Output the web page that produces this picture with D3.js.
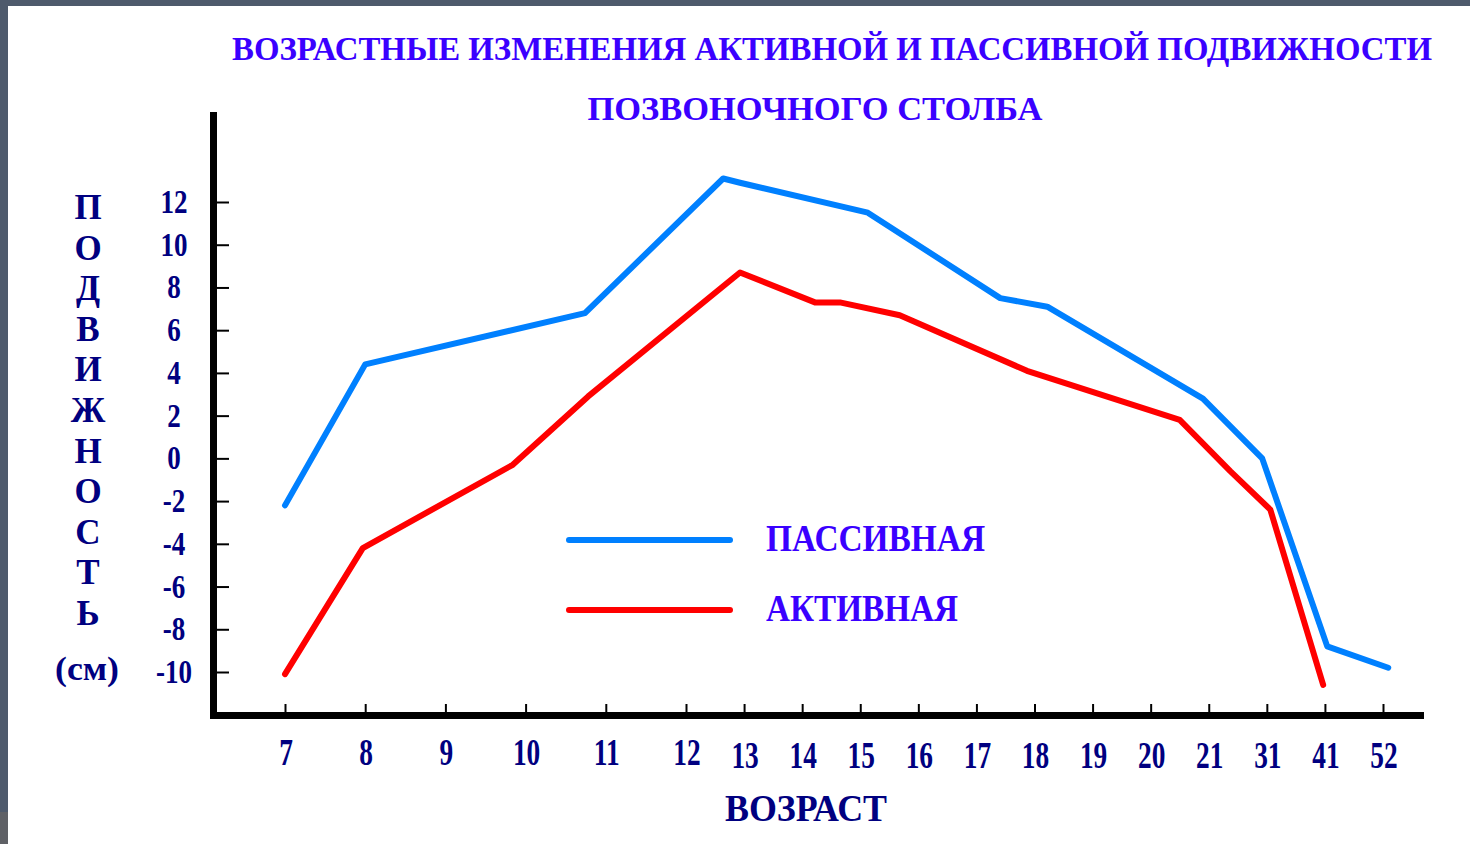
<!DOCTYPE html>
<html>
<head>
<meta charset="utf-8">
<script src="https://cdn.jsdelivr.net/npm/d3@7"></script>
<style>
  body { margin: 0; background: #fff; }
  svg { display: block; }
  text { font-family: "Liberation Serif", "Times New Roman", serif; font-weight: bold; }
</style>
</head>
<body>
<div class="chart"></div>
<script>
const w = 1470;
const h = 844;

// ages along the x axis (categories)
const ages = ["7", "8", "9", "10", "11", "12", "13", "14", "15", "16", "17", "18", "19", "20", "21", "31", "41", "52"];
const yTicks = [12, 10, 8, 6, 4, 2, 0, -2, -4, -6, -8, -10];

// series: position along the age axis (category index) and value in cm
const passivePos = [0, 1, 3.74, 5.64, 5.93, 8.13, 10.41, 11.22, 13.9, 14.92, 16.04, 17.09];
const passiveVal = [-2.2, 4.4, 6.8, 13.1, 12.9, 11.5, 7.5, 7.1, 2.8, 0, -8.8, -9.8];
const activePos = [0, 0.97, 2.84, 3.78, 5.93, 7.22, 7.65, 8.68, 10.87, 13.5, 14.37, 15.06, 15.97];
const activeVal = [-10.1, -4.2, -0.3, 2.9, 8.7, 7.3, 7.3, 6.7, 4.1, 1.8, -0.6, -2.4, -10.6];

const yLetters = ["П", "О", "Д", "В", "И", "Ж", "Н", "О", "С", "Т", "Ь"];

const navy = "#000080";
const violet = "#3a00ff";
const blue = "#0080ff";
const red = "#ff0000";

const svg = d3.select(".chart")
    .append("svg")
    .attr("width", w)
    .attr("height", h);

// frame of the slide
svg.append("rect").attr("x", 0).attr("y", 0).attr("width", w).attr("height", 6).attr("fill", "#4e5a6c");
svg.append("rect").attr("x", 0).attr("y", 0).attr("width", 8).attr("height", 812).attr("fill", "#4e5a6c");
svg.append("rect").attr("x", 0).attr("y", 812).attr("width", 8).attr("height", h - 812).attr("fill", "#5f6166");

// scales: the first six ages are spaced wider than the rest
const x = d3.scaleLinear()
    .domain([0, 5, ages.length - 1])
    .range([285, 686, 1383]);

const y = d3.scaleLinear()
    .domain([-10, 12])
    .range([672, 202]);

// title
svg.append("text")
    .attr("x", 832).attr("y", 60)
    .attr("text-anchor", "middle")
    .attr("fill", violet)
    .style("font-size", "33px")
    .attr("textLength", 1200)
    .attr("lengthAdjust", "spacingAndGlyphs")
    .text("ВОЗРАСТНЫЕ ИЗМЕНЕНИЯ АКТИВНОЙ И ПАССИВНОЙ ПОДВИЖНОСТИ");

svg.append("text")
    .attr("x", 815).attr("y", 120)
    .attr("text-anchor", "middle")
    .attr("fill", violet)
    .style("font-size", "34px")
    .attr("textLength", 455)
    .attr("lengthAdjust", "spacingAndGlyphs")
    .text("ПОЗВОНОЧНОГО СТОЛБА");

// y axis
const yAxis = svg.append("g").attr("transform", "translate(217,0)")
    .call(d3.axisRight(y).tickValues(yTicks).tickSize(12).tickFormat(""));
yAxis.select(".domain").remove();
yAxis.selectAll(".tick line").attr("stroke", "#000").attr("stroke-width", 2);

svg.selectAll(".ylab")
    .data(yTicks)
    .enter()
    .append("text")
    .attr("class", "ylab")
    .attr("transform", (d) => `translate(174, ${y(d) + 11}) scale(0.82, 1)`)
    .attr("text-anchor", "middle")
    .attr("fill", navy)
    .style("font-size", "33px")
    .text((d) => d);

// x axis
const xAxis = svg.append("g").attr("transform", "translate(0,712)")
    .call(d3.axisTop(x).tickValues(d3.range(ages.length)).tickSize(8).tickFormat(""));
xAxis.select(".domain").remove();
xAxis.selectAll(".tick line").attr("stroke", "#000").attr("stroke-width", 2);

svg.selectAll(".xlab")
    .data(ages)
    .enter()
    .append("text")
    .attr("class", "xlab")
    .attr("transform", (d, i) => `translate(${x(i) + 1}, ${i < 6 ? 765 : 768}) scale(0.74, 1)`)
    .attr("text-anchor", "middle")
    .attr("fill", navy)
    .style("font-size", "37px")
    .text((d) => d);

// axis lines
svg.append("line")
    .attr("x1", 213.5).attr("x2", 213.5).attr("y1", 112).attr("y2", 719)
    .attr("stroke", "#000").attr("stroke-width", 7);
svg.append("line")
    .attr("x1", 210).attr("x2", 1424).attr("y1", 715.5).attr("y2", 715.5)
    .attr("stroke", "#000").attr("stroke-width", 7);

// axis titles
svg.append("text")
    .attr("x", 806).attr("y", 821)
    .attr("text-anchor", "middle")
    .attr("fill", navy)
    .style("font-size", "37px")
    .attr("textLength", 162)
    .attr("lengthAdjust", "spacingAndGlyphs")
    .text("ВОЗРАСТ");

svg.selectAll(".yletter")
    .data(yLetters)
    .enter()
    .append("text")
    .attr("class", "yletter")
    .attr("x", 88)
    .attr("y", (d, i) => 219 + i * 40.6)
    .attr("text-anchor", "middle")
    .attr("fill", navy)
    .style("font-size", "35px")
    .text((d) => d);

svg.append("text")
    .attr("x", 87).attr("y", 680)
    .attr("text-anchor", "middle")
    .attr("fill", navy)
    .style("font-size", "34px")
    .attr("textLength", 64)
    .attr("lengthAdjust", "spacingAndGlyphs")
    .text("(см)");

// lines
const line = d3.line()
    .x((d) => x(d[0]))
    .y((d) => y(d[1]));

const series = [
    { name: "ПАССИВНАЯ", color: blue, points: d3.zip(passivePos, passiveVal) },
    { name: "АКТИВНАЯ", color: red, points: d3.zip(activePos, activeVal) }
];

svg.selectAll(".series")
    .data(series)
    .enter()
    .append("path")
    .attr("class", "series")
    .attr("d", (d) => line(d.points))
    .attr("fill", "none")
    .attr("stroke", (d) => d.color)
    .attr("stroke-width", 6)
    .attr("stroke-linejoin", "round")
    .attr("stroke-linecap", "round");

// legend
const legend = svg.append("g")
    .selectAll("g")
    .data(series)
    .enter()
    .append("g")
    .attr("transform", (d, i) => `translate(567, ${540 + i * 70})`);

legend.append("line")
    .attr("x1", 2).attr("x2", 163)
    .attr("stroke", (d) => d.color)
    .attr("stroke-width", 6)
    .attr("stroke-linecap", "round");

legend.append("text")
    .attr("x", 199)
    .attr("y", 11)
    .attr("fill", violet)
    .style("font-size", "37px")
    .attr("textLength", (d, i) => i === 0 ? 219 : 192)
    .attr("lengthAdjust", "spacingAndGlyphs")
    .text((d) => d.name);
</script>
</body>
</html>
